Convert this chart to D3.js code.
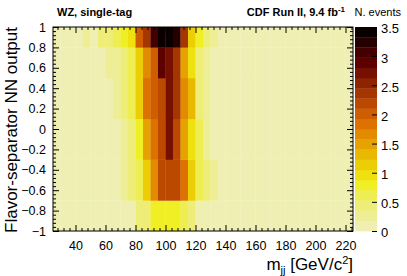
<!DOCTYPE html>
<html>
<head>
<meta charset="utf-8">
<script src="https://cdn.jsdelivr.net/npm/d3@7"></script>
<style>
  body { margin: 0; background: #fff; }
  svg { font-family: "Liberation Sans", Arial, sans-serif; }
  .axis text { font-size: 12.5px; fill: #000; }
  .axis line { stroke: #000; }
  .axis path { display: none; }
</style>
</head>
<body>
<div id="chart-area"></div>
<script>
// m_jj bin edges (GeV/c^2) and NN output bin edges
const mjjEdges = d3.range(25, 226, 5);
const nnEdges = [-1, -0.7, -0.3, 0.1, 0.5, 0.8, 1];

// events per cell, one array per NN row (bottom row first), 40 mjj bins each
const row0 = [0.1,0.1,0.1,0.1,0.1,0.1,0.1,0.1,0.1,0.1,0.1,0.45,0.5,0.75,0.85,0.85,0.8,0.6,0.35,0.15,
              0.1,0.1,0.1,0.1,0.1,0.1,0.1,0.1,0.1,0.1,0.1,0.1,0.1,0.1,0.1,0.1,0.1,0.1,0.1,0.1];
const row1 = [0.1,0.1,0.1,0.1,0.1,0.1,0.1,0.1,0.1,0.3,0.45,0.65,1.2,1.6,2.2,2.2,2.2,1.8,1.1,0.65,
              0.35,0.2,0.1,0.1,0.1,0.1,0.1,0.1,0.1,0.1,0.1,0.1,0.1,0.1,0.1,0.1,0.1,0.1,0.1,0.1];
const row2 = [0.1,0.1,0.1,0.1,0.1,0.1,0.1,0.1,0.1,0.3,0.5,0.8,1.5,1.8,2.2,2.7,2.2,1.5,0.95,0.55,
              0.25,0.15,0.1,0.1,0.1,0.1,0.1,0.1,0.1,0.1,0.1,0.1,0.1,0.1,0.1,0.1,0.1,0.1,0.1,0.1];
const row3 = [0.1,0.1,0.1,0.1,0.1,0.1,0.1,0.1,0.3,0.35,0.6,1.1,1.8,1.95,2.2,2.7,2.35,1.6,1.3,0.5,
              0.3,0.15,0.1,0.1,0.1,0.1,0.1,0.1,0.1,0.1,0.1,0.1,0.1,0.1,0.1,0.1,0.1,0.1,0.1,0.1];
const row4 = [0.1,0.1,0.1,0.1,0.1,0.1,0.1,0.25,0.3,0.4,0.6,1.1,1.6,1.95,2.85,2.7,2.35,1.5,1.0,0.5,
              0.3,0.15,0.1,0.1,0.1,0.1,0.1,0.1,0.1,0.1,0.1,0.1,0.1,0.1,0.1,0.1,0.1,0.1,0.1,0.1];
const row5 = [0.1,0.1,0.1,0.1,0.3,0.1,0.4,0.4,0.6,0.8,1.0,1.95,2.35,3.05,3.45,3.45,3.2,2.35,1.2,0.8,
              0.4,0.2,0.1,0.1,0.1,0.1,0.1,0.1,0.1,0.1,0.1,0.1,0.1,0.1,0.1,0.1,0.1,0.1,0.1,0.1];
const rows = [row0, row1, row2, row3, row4, row5];

const xTicks = [40, 60, 80, 100, 120, 140, 160, 180, 200, 220];
const yTicks = [-1, -0.8, -0.6, -0.4, -0.2, 0, 0.2, 0.4, 0.6, 0.8, 1];
const zTicks = [0, 0.5, 1, 1.5, 2, 2.5, 3, 3.5];

// 20-level palette, pale yellow -> black
const palette = ["#efefb3","#eeee96","#eded78","#eeee52","#f0ef26","#efe010","#ecce06","#e9b800",
                 "#e6a200","#e28a00","#dd7200","#cf5e00","#bb4a00","#a53600","#8e2300","#761000",
                 "#5c0000","#420000","#260000","#0a0000"];

const width = 407, height = 276;
const margin = {top: 27, right: 54, bottom: 45, left: 53};

const svg = d3.select("#chart-area").append("svg")
  .attr("width", width)
  .attr("height", height);

const x = d3.scaleLinear().domain([25, 225]).range([margin.left, width - margin.right]);
const y = d3.scaleLinear().domain([-1, 1]).range([height - margin.bottom, margin.top]);
const color = d3.scaleQuantize().domain([0, 3.5]).range(palette);

// flatten cells
let cells = [];
rows.forEach((r, j) => r.forEach((v, i) => {
  cells.push({x0: mjjEdges[i], x1: mjjEdges[i + 1], y0: nnEdges[j], y1: nnEdges[j + 1], v: v});
}));

svg.append("g").selectAll("rect")
  .data(cells)
  .enter()
  .append("rect")
  .attr("x", d => x(d.x0))
  .attr("y", d => y(d.y1))
  .attr("width", d => x(d.x1) - x(d.x0) + 0.3)
  .attr("height", d => y(d.y0) - y(d.y1) + 0.3)
  .style("fill", d => color(d.v));

// axes: major + minor ticks, inside, on all four sides
const xMinor = d3.range(28, 225, 4).filter(v => v % 20 != 0);
const yMinor = d3.range(-1, 1.001, 0.04).filter(v => Math.abs(Math.round(v * 5) - v * 5) > 1e-6);
const fmt = d3.format("~g");
const y0 = y(-1), y1 = y(1), x0 = x(25), x1 = x(225);

svg.append("g").attr("class", "axis").attr("transform", `translate(0,${y0})`)
  .call(d3.axisBottom(x).tickValues(xTicks).tickSize(-6).tickPadding(10).tickFormat(fmt));
svg.append("g").attr("class", "axis").attr("transform", `translate(0,${y0})`)
  .call(d3.axisBottom(x).tickValues(xMinor).tickSize(-3).tickFormat(""));
svg.append("g").attr("class", "axis").attr("transform", `translate(0,${y1})`)
  .call(d3.axisTop(x).tickValues(xTicks).tickSize(-6).tickFormat(""));
svg.append("g").attr("class", "axis").attr("transform", `translate(0,${y1})`)
  .call(d3.axisTop(x).tickValues(xMinor).tickSize(-3).tickFormat(""));

svg.append("g").attr("class", "axis").attr("transform", `translate(${x0},0)`)
  .call(d3.axisLeft(y).tickValues(yTicks).tickSize(-6).tickPadding(7).tickFormat(fmt));
svg.append("g").attr("class", "axis").attr("transform", `translate(${x0},0)`)
  .call(d3.axisLeft(y).tickValues(yMinor).tickSize(-3).tickFormat(""));
svg.append("g").attr("class", "axis").attr("transform", `translate(${x1},0)`)
  .call(d3.axisRight(y).tickValues(yTicks).tickSize(-6).tickFormat(""));
svg.append("g").attr("class", "axis").attr("transform", `translate(${x1},0)`)
  .call(d3.axisRight(y).tickValues(yMinor).tickSize(-3).tickFormat(""));

svg.append("rect")
  .attr("x", x0).attr("y", y1)
  .attr("width", x1 - x0).attr("height", y0 - y1)
  .style("fill", "none").style("stroke", "#000").style("stroke-width", 1);

// colour bar
const zx0 = 355, zx1 = 377;
const z = d3.scaleLinear().domain([0, 3.5]).range([y0, y1]);
const step = 3.5 / palette.length;
svg.append("g").selectAll("rect")
  .data(palette)
  .enter()
  .append("rect")
  .attr("x", zx0)
  .attr("y", (d, i) => z((i + 1) * step))
  .attr("width", zx1 - zx0)
  .attr("height", (d, i) => z(i * step) - z((i + 1) * step) + 0.3)
  .style("fill", d => d);

svg.append("g").attr("class", "axis").attr("transform", `translate(${zx1},0)`)
  .call(d3.axisRight(z).tickValues(zTicks).tickSize(-5).tickPadding(4).tickFormat(fmt))
  .selectAll("text").attr("dy", "0.45em").style("font-size", "13px");

// texts
svg.append("text")
  .attr("x", 57).attr("y", 16)
  .style("font-size", "11px").style("font-weight", "bold")
  .text("WZ, single-tag");

let cdf = svg.append("text")
  .attr("x", 345).attr("y", 16)
  .style("font-size", "11px").style("font-weight", "bold")
  .style("text-anchor", "end");
cdf.append("tspan").text("CDF Run II, 9.4 fb");
cdf.append("tspan").attr("dy", -4).style("font-size", "8px").text("-1");

svg.append("text")
  .attr("x", 401).attr("y", 16)
  .style("font-size", "11px")
  .style("text-anchor", "end")
  .text("N. events");

svg.append("text")
  .attr("transform", `translate(17,${y1}) rotate(-90)`)
  .style("font-size", "17px")
  .style("text-anchor", "end")
  .text("Flavor-separator NN output");

let xl = svg.append("text")
  .attr("x", x1).attr("y", 270)
  .style("font-size", "17px")
  .style("text-anchor", "end");
xl.append("tspan").text("m");
xl.append("tspan").attr("dy", 4).style("font-size", "11px").text("jj");
xl.append("tspan").attr("dy", -4).text(" [GeV/c");
xl.append("tspan").attr("dy", -6).style("font-size", "11px").text("2");
xl.append("tspan").attr("dy", 6).text("]");
</script>
</body>
</html>
